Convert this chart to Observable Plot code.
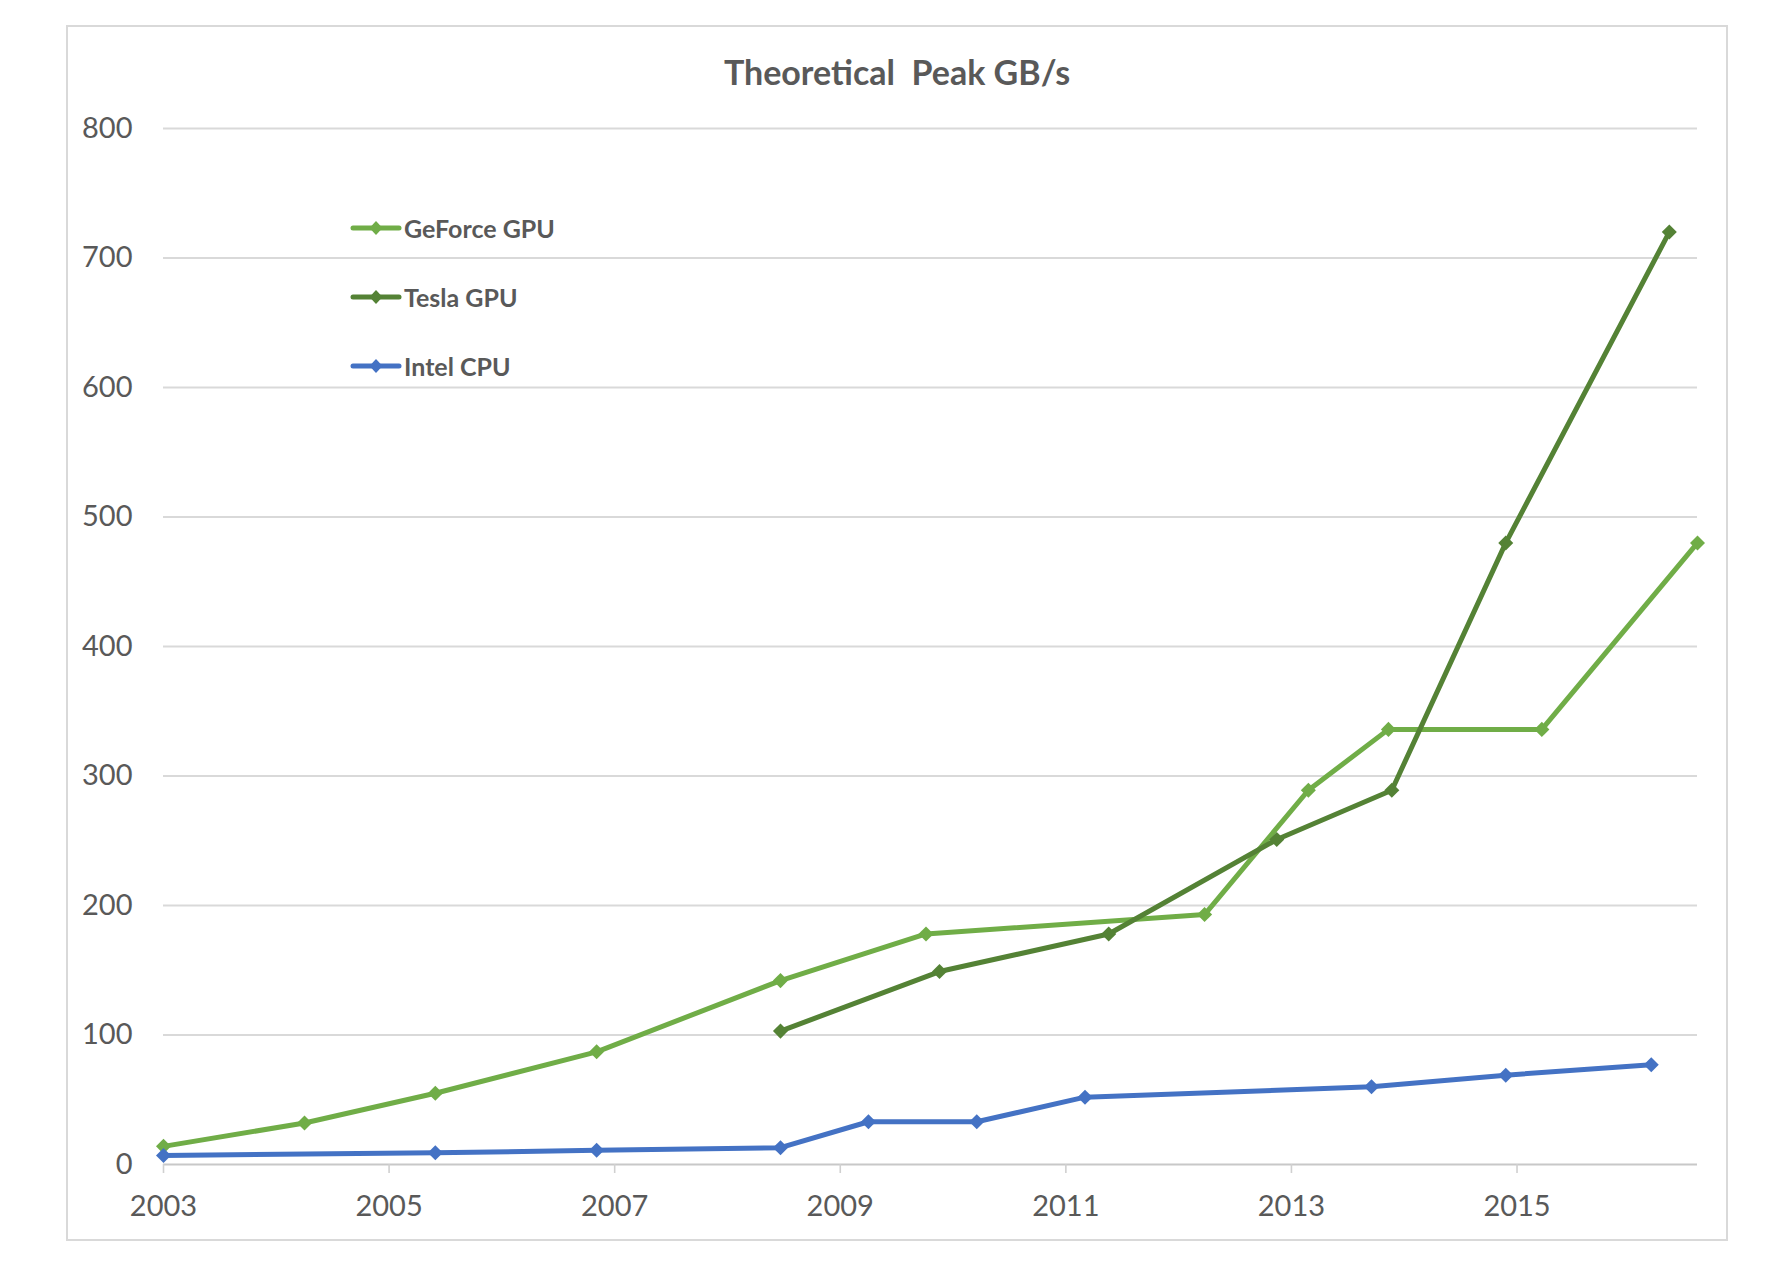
<!DOCTYPE html>
<html><head><meta charset="utf-8">
<script src="https://cdn.jsdelivr.net/npm/d3@7"></script>
<script src="https://cdn.jsdelivr.net/npm/@observablehq/plot@0.6"></script>
<style>
body{margin:0;background:#fff;font-family:Lato,"Open Sans",sans-serif;}
#wrap{position:relative;width:1786px;height:1284px;overflow:hidden;}
#frame{position:absolute;left:66px;top:25px;width:1662px;height:1216px;border:2px solid #d9d9d9;box-sizing:border-box;}
#title{position:absolute;left:597px;width:600px;top:51px;text-align:center;font-weight:bold;font-size:34px;color:#595959;line-height:42px;white-space:pre;}
#chart{position:absolute;left:0;top:0;}
#legend{position:absolute;left:350px;top:210px;}
.item{display:flex;align-items:center;height:36px;margin-bottom:33px;font-weight:bold;font-size:25px;color:#595959;}
.item svg{margin-right:2px;}
</style></head>
<body>
<div id="wrap">
  <div id="frame"></div>
  <div id="chart"></div>
  <div id="title">Theoretical  Peak GB/s</div>
  <div id="legend"></div>
</div>
<script>
const seriesNames = ["GeForce GPU", "Tesla GPU", "Intel CPU"];
const seriesColors = ["#70ad47", "#548235", "#4472c4"];

const geforceYears = [2003.0, 2004.25, 2005.41, 2006.84, 2008.47, 2009.76, 2012.23, 2013.15, 2013.86, 2015.22, 2016.6];
const geforceGBs   = [14, 32, 55, 87, 142, 178, 193, 289, 336, 336, 480];

const teslaYears = [2008.47, 2009.88, 2011.38, 2012.87, 2013.89, 2014.9, 2016.35];
const teslaGBs   = [103, 149, 178, 251, 289, 480, 720];

const intelYears = [2003.0, 2005.41, 2006.84, 2008.47, 2009.25, 2010.21, 2011.17, 2013.71, 2014.9, 2016.19];
const intelGBs   = [7, 9, 11, 13, 33, 33, 52, 60, 69, 77];

const xTicks = [2003, 2005, 2007, 2009, 2011, 2013, 2015];
const yTicks = [0, 100, 200, 300, 400, 500, 600, 700, 800];

const rows = [];
[[geforceYears, geforceGBs], [teslaYears, teslaGBs], [intelYears, intelGBs]].forEach(([xs, ys], i) => {
  xs.forEach((x, j) => rows.push({series: seriesNames[i], year: x, gbs: ys[j]}));
});

const color = {domain: seriesNames, range: seriesColors};

const chart = Plot.plot({
  width: 1786,
  height: 1284,
  marginLeft: 163,
  marginRight: 89,
  marginTop: 128,
  marginBottom: 120,
  style: {fontFamily: "Lato, 'Open Sans', sans-serif", color: "#595959", background: "transparent"},
  x: {domain: [2003, 2016.6]},
  y: {domain: [0, 800]},
  color,
  marks: [
    Plot.ruleY(yTicks.filter(d => d > 0), {stroke: "#d9d9d9", strokeWidth: 1.8}),
    Plot.ruleY([0], {stroke: "#c8c8c8", strokeWidth: 2}),
    Plot.axisX({ticks: xTicks, tickFormat: d => String(d), tickSize: 9, tickPadding: 22, fontSize: 29, stroke: "#d0d0d0", strokeWidth: 1.6, fill: "#595959", label: null}),
    Plot.axisY({ticks: yTicks, tickSize: 0, tickPadding: 31, fontSize: 29, fill: "#595959", label: null}),
    Plot.line(rows, {x: "year", y: "gbs", z: "series", stroke: "series", strokeWidth: 5, strokeLinejoin: "round"}),
    Plot.dot(rows, {x: "year", y: "gbs", fill: "series", symbol: "square", rotate: 45, r: 6})
  ]
});
document.getElementById("chart").appendChild(chart);

const legend = document.getElementById("legend");
seriesNames.forEach((name, i) => {
  const div = document.createElement("div");
  div.className = "item";
  div.innerHTML = `<svg width="52" height="16"><line x1="3" y1="8" x2="49" y2="8" stroke="${seriesColors[i]}" stroke-width="5" stroke-linecap="round"/><path d="M26,1 L32.5,8 L26,15 L19.5,8 Z" fill="${seriesColors[i]}"/></svg><span>${name}</span>`;
  legend.appendChild(div);
});
</script>
</body></html>
